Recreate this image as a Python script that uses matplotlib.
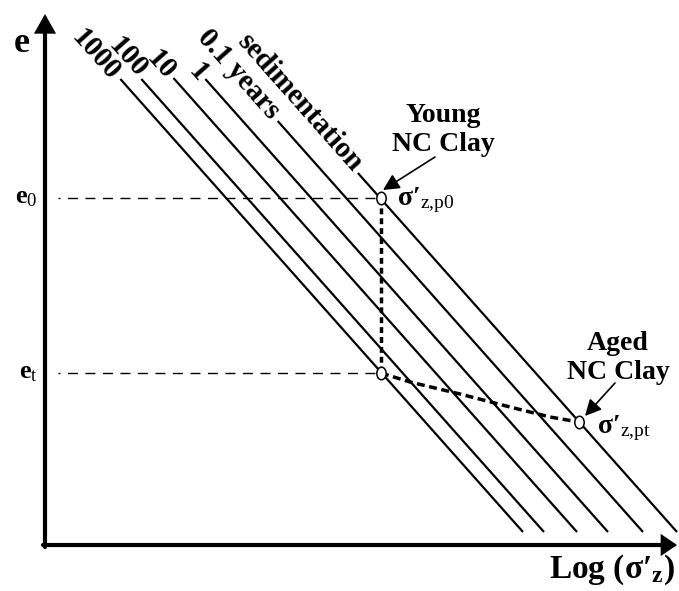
import matplotlib.pyplot as plt
from matplotlib.markers import MarkerStyle
from matplotlib.transforms import Affine2D

plt.rcParams['font.family'] = 'Liberation Serif'
plt.rcParams['mathtext.fontset'] = 'custom'
plt.rcParams['mathtext.rm'] = 'Liberation Serif'
plt.rcParams['mathtext.bf'] = 'Liberation Serif:bold'
plt.rcParams['mathtext.it'] = 'Liberation Serif:italic'

# compression lines (e vs log sigma'), all parallel
line_labels = ["1000", "100", "10", "1", "0.1 years", "sedimentation"]
line_bottom_x = [4.78, 4.99, 5.32, 5.63, 5.98, 6.32]
line_top_e = [4.66, 4.66, 4.67, 4.66, 4.24, 3.72]
line_bottom_e = 0.13
slope = 1.125
label_x = [0.51, 0.83, 1.16, 1.53, 1.94, 2.55]
label_y = [4.90, 4.88, 4.80, 4.73, 4.71, 4.43]

# void ratios and preconsolidation stresses
e0 = 3.47
et = 1.72
sig_p0 = 3.36
sig_pt = 5.34
e_pt = 1.23
aging_x = [3.36, 3.65, 4.15, 4.65, 5.05, 5.34]
aging_e = [1.72, 1.63, 1.51, 1.38, 1.28, 1.23]

fig = plt.figure(figsize=(6.79, 5.91), dpi=100)
ax = fig.add_axes([0, 0, 1, 1])
ax.set_xlim(-0.45, 6.34)
ax.set_ylim(-0.46, 5.45)
ax.axis("off")

# axes with arrows
x_arrow = dict(arrowstyle="-|>,head_length=0.38,head_width=0.26", lw=3, color="k",
               shrinkA=0, shrinkB=0, mutation_scale=20, joinstyle="miter")
y_arrow = dict(arrowstyle="-|>,head_length=0.48,head_width=0.27", lw=3, color="k",
               shrinkA=0, shrinkB=0, mutation_scale=20, joinstyle="miter")
ax.annotate("", xy=(6.32, 0), xytext=(-0.02, 0), arrowprops=x_arrow)
ax.annotate("", xy=(0, 5.31), xytext=(0, -0.02), arrowprops=y_arrow)

for xb, top, lab, lx, ly in zip(line_bottom_x, line_top_e, line_labels, label_x, label_y):
    xt = xb - (top - line_bottom_e) / slope
    ax.plot([xt, xb], [top, line_bottom_e], color="k", lw=1.6, solid_capstyle="butt")
    ax.text(lx, ly, lab, rotation=-48.4, rotation_mode="anchor", ha="center", va="center",
            fontsize=21, fontweight="bold")

# dashed guide lines
ax.plot([0.13, sig_p0], [e0, e0], color="k", lw=1.0, ls=(5.8, (7.2, 5.4)))
ax.plot([0.13, sig_p0], [et, et], color="k", lw=1.0, ls=(5.8, (7.2, 5.4)))
ax.plot([sig_p0, sig_p0], [e0, et], color="k", lw=2.5, ls=(0, (1.7, 1.15)))
ax.plot(aging_x, aging_e, color="k", lw=2.5, ls=(0, (2.3, 1.3)))

oval = MarkerStyle("o", transform=Affine2D().scale(0.75, 1.0))
ax.plot([sig_p0, sig_p0, sig_pt], [e0, et, e_pt], ls="none", marker=oval, ms=9,
        mfc="white", mec="k", mew=1.1, zorder=5)

# labels
ax.text(-0.23, 5.02, "e", fontsize=26, fontweight="bold", ha="center", va="center")
ax.text(-0.07, e0, r"e$_{\mathrm{0}}$", fontsize=19, fontweight="bold", ha="right", va="center")
ax.text(-0.07, et, r"e$_{\mathrm{t}}$", fontsize=19, fontweight="bold", ha="right", va="center")
ax.text(6.30, -0.33, r"Log ($\mathbf{σ′}_{\mathbf{z}}$)", fontsize=24,
        fontweight="bold", ha="right", va="baseline")

ax.text(3.52, 3.40, r"$\mathbf{σ′}_{\mathrm{z{,}p0}}$", fontsize=20, ha="left", va="baseline")
ax.text(5.52, 1.12, r"$\mathbf{σ′}_{\mathrm{z{,}pt}}$", fontsize=20, ha="left", va="baseline")

small_arrow = dict(arrowstyle="-|>,head_length=0.7,head_width=0.35", lw=1.2, color="k",
                   shrinkA=0, shrinkB=0, mutation_scale=14)
ax.text(3.98, 4.15, "Young\nNC Clay", fontsize=20, fontweight="bold", ha="center", va="center")
ax.annotate("", xy=(3.38, 3.55), xytext=(3.90, 3.88), arrowprops=small_arrow)
ax.text(5.73, 1.87, "Aged\nNC Clay", fontsize=20, fontweight="bold", ha="center", va="center")
ax.annotate("", xy=(5.40, 1.29), xytext=(5.70, 1.62), arrowprops=small_arrow)

fig.savefig("out.png", dpi=100)
